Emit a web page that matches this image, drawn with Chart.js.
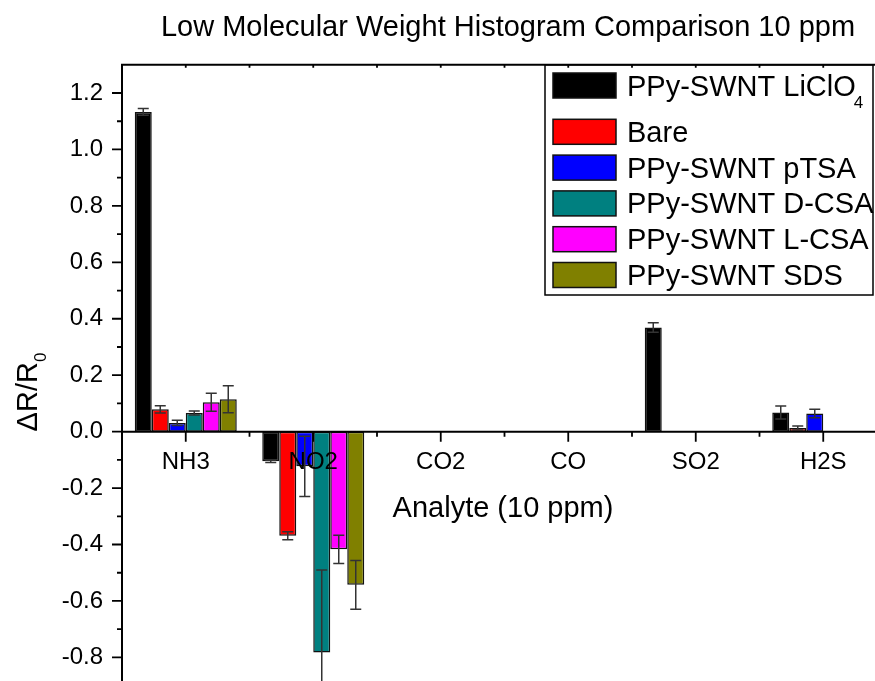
<!DOCTYPE html>
<html>
<head>
<meta charset="utf-8">
<script src="https://cdn.jsdelivr.net/npm/chart.js@4.4.0/dist/chart.umd.min.js"></script>
<style>
  html, body { margin: 0; padding: 0; background: #fff; overflow: hidden; }
  canvas { display: block; }
</style>
</head>
<body>
<canvas id="myChart" width="890" height="719"></canvas>
<script>
// categories
const analytes = ['NH3', 'NO2', 'CO2', 'CO', 'SO2', 'H2S'];

// series values (dR/R0) and their error bars
const licio4    = [1.133, -0.105, null, null, 0.369, 0.068];
const licio4Err = [0.012, 0.004, null, null, 0.017, 0.023];
const bare      = [0.079, -0.369, null, null, null, 0.013];
const bareErr   = [0.013, 0.014, null, null, null, 0.007];
const ptsa      = [0.031, -0.123, null, null, null, 0.064];
const ptsaErr   = [0.009, 0.107, null, null, null, 0.015];
const dcsa      = [0.066, -0.783, null, null, null, null];
const dcsaErr   = [0.007, 0.293, null, null, null, null];
const lcsa      = [0.104, -0.417, null, null, null, null];
const lcsaErr   = [0.032, 0.050, null, null, null, null];
const sds       = [0.115, -0.543, null, null, null, null];
const sdsErr    = [0.048, 0.086, null, null, null, null];

// tick labels on the value axis
const yTicks = [-0.8, -0.6, -0.4, -0.2, 0.0, 0.2, 0.4, 0.6, 0.8, 1.0, 1.2];
const yMinorTicks = [-0.9, -0.7, -0.5, -0.3, -0.1, 0.1, 0.3, 0.5, 0.7, 0.9, 1.1];

const FONT = '"Liberation Sans", Arial, sans-serif';

function makeSet(label, data, errors, color) {
    return {
        label: label,
        data: data,
        errors: errors,
        backgroundColor: color,
        borderColor: '#111',
        borderWidth: 1.5,
        borderSkipped: false,
        categoryPercentage: 0.8,
        barPercentage: 1.0
    };
}

// error bars, drawn from the bar elements and the y scale
const errorBars = {
    id: 'errorBars',
    afterDatasetsDraw(chart) {
        const ctx = chart.ctx;
        const y = chart.scales.y;
        ctx.save();
        ctx.strokeStyle = '#333';
        ctx.lineWidth = 1.5;
        chart.data.datasets.forEach((ds, i) => {
            const meta = chart.getDatasetMeta(i);
            meta.data.forEach((bar, j) => {
                const v = ds.data[j];
                const e = ds.errors[j];
                if (v == null || e == null) return;
                const yHi = y.getPixelForValue(v + e);
                const yLo = y.getPixelForValue(v - e);
                ctx.beginPath();
                ctx.moveTo(bar.x, yHi); ctx.lineTo(bar.x, yLo);
                ctx.moveTo(bar.x - 5.5, yHi); ctx.lineTo(bar.x + 5.5, yHi);
                ctx.moveTo(bar.x - 5.5, yLo); ctx.lineTo(bar.x + 5.5, yLo);
                ctx.stroke();
            });
        });
        ctx.restore();
    }
};

// axis lines, tick marks, titles and the boxed legend
const frame = {
    id: 'frame',
    afterDraw(chart) {
        const ctx = chart.ctx;
        const area = chart.chartArea;
        const x = chart.scales.x;
        const y = chart.scales.y;
        const y0 = y.getPixelForValue(0);
        const step = x.getPixelForValue(1) - x.getPixelForValue(0);

        ctx.save();
        ctx.strokeStyle = '#000';
        ctx.lineWidth = 2;
        ctx.beginPath();
        // left axis and top frame
        ctx.moveTo(area.left, area.top); ctx.lineTo(area.left, area.bottom);
        ctx.moveTo(area.left - 1, area.top); ctx.lineTo(area.right, area.top);
        // zero line
        ctx.moveTo(area.left, y0); ctx.lineTo(area.right, y0);
        ctx.stroke();

        ctx.lineWidth = 1.8;
        ctx.beginPath();
        yTicks.forEach(v => {
            const p = y.getPixelForValue(v);
            ctx.moveTo(area.left - 10, p); ctx.lineTo(area.left, p);
        });
        yMinorTicks.forEach(v => {
            const p = y.getPixelForValue(v);
            ctx.moveTo(area.left - 5, p); ctx.lineTo(area.left, p);
        });
        analytes.forEach((c, i) => {
            const p = x.getPixelForValue(i);
            ctx.moveTo(p, y0); ctx.lineTo(p, y0 + 10);
            ctx.moveTo(p, area.top); ctx.lineTo(p, area.top + 3);
            const b = p + step / 2;
            ctx.moveTo(b, y0); ctx.lineTo(b, y0 + 5);
            ctx.moveTo(b, area.top); ctx.lineTo(b, area.top + 3);
        });
        ctx.stroke();

        // titles
        ctx.fillStyle = '#000';
        ctx.font = '29px ' + FONT;
        ctx.textAlign = 'center';
        ctx.textBaseline = 'alphabetic';
        ctx.fillText('Low Molecular Weight Histogram Comparison 10 ppm', 508, 36);
        ctx.fillText('Analyte (10 ppm)', 503, 517);

        // y title with subscript
        ctx.save();
        ctx.translate(37, 392);
        ctx.rotate(-Math.PI / 2);
        ctx.textAlign = 'left';
        ctx.font = '29px ' + FONT;
        const main = '\u0394R/R';
        const wMain = ctx.measureText(main).width;
        ctx.font = '17px ' + FONT;
        const wSub = ctx.measureText('0').width;
        const start = -(wMain + wSub) / 2;
        ctx.font = '29px ' + FONT;
        ctx.fillText(main, start, 0);
        ctx.font = '17px ' + FONT;
        ctx.fillText('0', start + wMain, 9);
        ctx.restore();

        // legend box
        const lx = 545, lr = 873, lb = 295;
        ctx.lineWidth = 1.5;
        ctx.strokeRect(lx, area.top, lr - lx, lb - area.top);
        ctx.textAlign = 'left';
        chart.data.datasets.forEach((ds, i) => {
            const top = i === 0 ? 73 : 119.3 + 35.8 * (i - 1);
            ctx.fillStyle = ds.backgroundColor;
            ctx.fillRect(553, top, 63, 25);
            ctx.strokeStyle = '#111';
            ctx.lineWidth = 1.5;
            ctx.strokeRect(553, top, 63, 25);
            ctx.fillStyle = '#000';
            const base = top + 12.5 + 10;
            const m = ds.label.match(/^(.*[A-Za-z])(\d)$/);
            ctx.font = '29px ' + FONT;
            if (m) {
                ctx.fillText(m[1], 627, base);
                const w = ctx.measureText(m[1]).width;
                ctx.font = '17px ' + FONT;
                ctx.fillText(m[2], 627 + w - 2, base + 12);
            } else {
                ctx.fillText(ds.label, 627, base);
            }
        });
        ctx.restore();
    }
};

const ctx = document.getElementById('myChart').getContext('2d');
const myChart = new Chart(ctx, {
    type: 'bar',
    data: {
        labels: analytes,
        datasets: [
            makeSet('PPy-SWNT LiClO4', licio4, licio4Err, '#000000'),
            makeSet('Bare', bare, bareErr, '#ff0000'),
            makeSet('PPy-SWNT pTSA', ptsa, ptsaErr, '#0000ff'),
            makeSet('PPy-SWNT D-CSA', dcsa, dcsaErr, '#008080'),
            makeSet('PPy-SWNT L-CSA', lcsa, lcsaErr, '#ff00ff'),
            makeSet('PPy-SWNT SDS', sds, sdsErr, '#808000')
        ]
    },
    options: {
        responsive: false,
        animation: false,
        devicePixelRatio: 1,
        layout: { padding: { left: 0, top: 64.8, right: 3, bottom: 20.5 } },
        plugins: {
            legend: { display: false },
            tooltip: { enabled: false },
            title: { display: false }
        },
        scales: {
            x: {
                type: 'category',
                position: { y: 0 },
                grid: { display: false, drawTicks: false },
                border: { display: false },
                ticks: {
                    z: 1,
                    color: '#000',
                    padding: 16,
                    maxRotation: 0,
                    autoSkip: false,
                    font: { family: FONT, size: 24 }
                }
            },
            y: {
                min: -0.9,
                max: 1.3,
                grid: { display: false, drawTicks: false },
                border: { display: false },
                afterBuildTicks: scale => { scale.ticks = yTicks.map(v => ({ value: v })); },
                afterFit: scale => { scale.width = 122; },
                ticks: {
                    color: '#000',
                    padding: 19,
                    font: { family: FONT, size: 24 },
                    callback: v => Number(v).toFixed(1)
                }
            }
        }
    },
    plugins: [errorBars, frame]
});
</script>
</body>
</html>
